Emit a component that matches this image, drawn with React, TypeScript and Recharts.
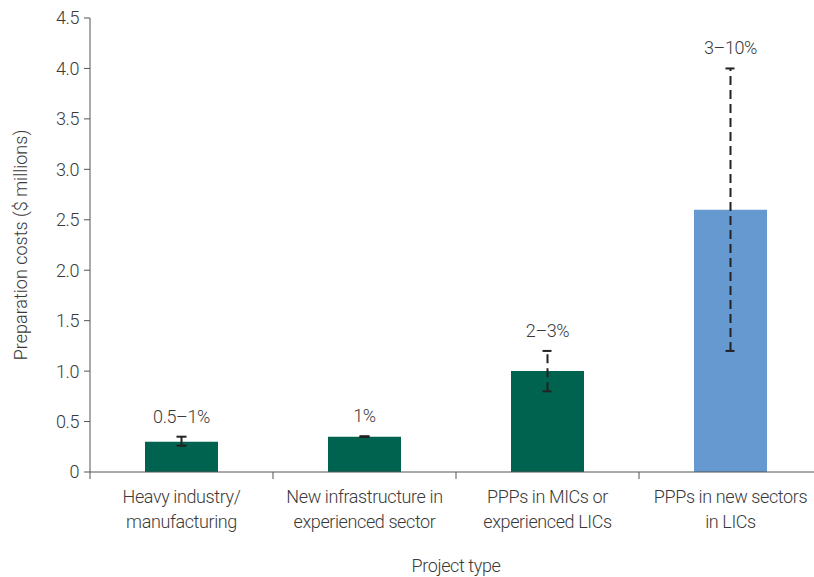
import { BarChart, Bar, XAxis, YAxis, ErrorBar, Cell, LabelList, Label } from 'recharts'

const projectTypes = [
  'Heavy industry/\nmanufacturing',
  'New infrastructure in\nexperienced sector',
  'PPPs in MICs or\nexperienced LICs',
  'PPPs in new sectors\nin LICs',
]
const costs = [0.3, 0.35, 1.0, 2.6]
const errLow = [0.04, 0.003, 0.2, 1.4]
const errHigh = [0.05, 0.005, 0.2, 1.4]
const dashedRange = [false, false, true, true]
const rangeLabels = ['0.5–1%', '1%', '2–3%', '3–10%']
const barColors = ['#00634f', '#00634f', '#00634f', '#6699d0']
const yTicks = [0, 0.5, 1, 1.5, 2, 2.5, 3, 3.5, 4, 4.5]

const data = projectTypes.map((type, i) => ({
  type,
  cost: costs[i],
  errSolid: dashedRange[i] ? null : [errLow[i], errHigh[i]],
  errDashed: dashedRange[i] ? [errLow[i], errHigh[i]] : null,
  label: rangeLabels[i],
  top: costs[i] + errHigh[i],
}))

const FONT = 'Roboto, sans-serif'
const FS = 18
const LS = -0.4
const TEXT = '#3a3a3a'
const AXIS = '#555'

function XTick({ x, y, payload }: any) {
  const off = payload.offset ?? 91.5
  const lines = String(payload.value).split('\n')
  return (
    <g>
      <line x1={x - off} y1={y} x2={x - off} y2={y + 7} stroke={AXIS} strokeWidth={1} />
      {lines.map((l, i) => (
        <text key={i} x={x} y={y + 31 + i * 25} textAnchor="middle" fill={TEXT} fontSize={FS} fontWeight={300} letterSpacing={LS} fontFamily={FONT}>
          {l}
        </text>
      ))}
    </g>
  )
}

function RangeLabel({ x, y, width, height, index }: any) {
  const d = data[index]
  const perUnit = height / d.cost
  const topY = y + height - d.top * perUnit
  return (
    <text x={x + width / 2} y={topY - 14} textAnchor="middle" fill={TEXT} fontSize={FS} fontWeight={300} letterSpacing={LS} fontFamily={FONT}>
      {d.label}
    </text>
  )
}

export default function App() {
  return (
    <div style={{ position: 'absolute', left: 0, top: 0, width: 814, height: 577, overflow: 'hidden', background: '#fff' }}>
      <BarChart width={822} height={577} data={data} margin={{ top: 18, right: 0, left: 0, bottom: 0 }} barSize={73}>
        <XAxis
          dataKey="type"
          tick={<XTick />}
          tickLine={false}
          tickSize={0}
          tickMargin={0}
          axisLine={{ stroke: AXIS }}
          height={105}
          interval={0}
        >
          <Label value="Project type" position="insideBottom" offset={5} fill={TEXT} fontSize={FS} fontWeight={300} letterSpacing={LS} fontFamily={FONT} />
        </XAxis>
        <YAxis
          domain={[0, 4.5]}
          ticks={yTicks}
          width={90}
          tickFormatter={(v: number) => (v === 0 ? '0' : v.toFixed(1))}
          tick={{ fill: TEXT, fontSize: FS, fontWeight: 300, letterSpacing: LS, fontFamily: FONT }}
          tickSize={6}
          tickMargin={5}
          stroke={AXIS}
          axisLine={{ stroke: AXIS }}
          tickLine={{ stroke: AXIS }}
        >
          <Label
            value="Preparation costs ($ millions)"
            angle={-90}
            position="insideLeft"
            offset={21}
            style={{ textAnchor: 'middle' }}
            fill={TEXT}
            fontSize={FS}
            fontWeight={300}
            fontFamily={FONT}
          />
        </YAxis>
        <Bar dataKey="cost" isAnimationActive={false}>
          {data.map((d, i) => (
            <Cell key={d.type} fill={barColors[i]} />
          ))}
          <ErrorBar dataKey="errSolid" width={5} stroke="#222" strokeWidth={2} />
          <ErrorBar dataKey="errDashed" width={5} stroke="#222" strokeWidth={2} strokeDasharray="9 5" />
          <LabelList dataKey="label" content={<RangeLabel />} />
        </Bar>
      </BarChart>
    </div>
  )
}
